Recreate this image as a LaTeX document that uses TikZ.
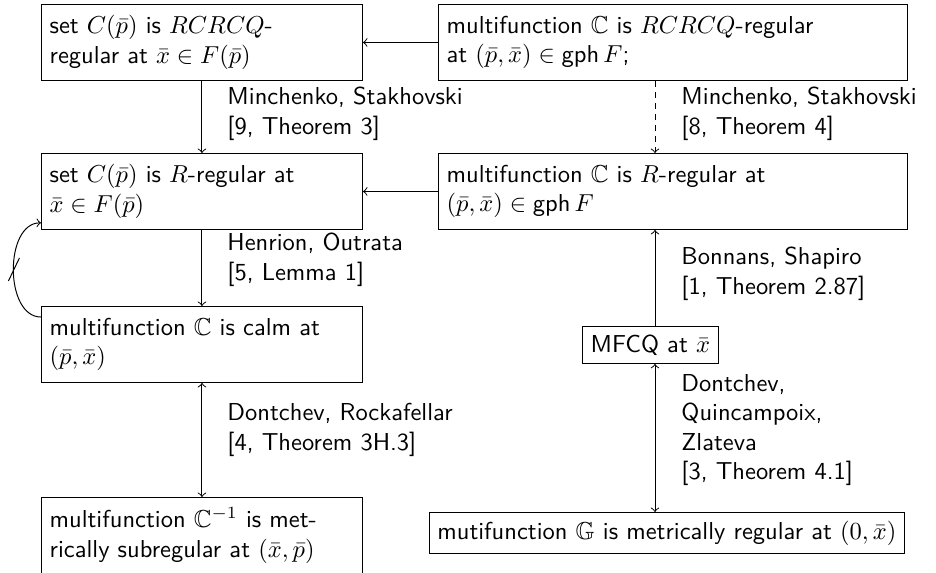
\documentclass[tikz,border=0pt]{standalone}
\usepackage{amssymb}
\renewcommand{\familydefault}{\sfdefault}
\begin{document}
\begin{tikzpicture}[x=0.408pt,y=-0.408pt, font=\sffamily,
  box/.style={draw, anchor=north west, align=left, inner sep=3.33pt},
  lbox/.style={box, text width=124.3pt, minimum height=31pt},
  rbox/.style={box, text width=184.7pt, minimum height=31pt},
  lbl/.style={anchor=west, align=left, inner sep=0pt},
  >=to]
\useasboundingbox (0,0) rectangle (936,573);

\node[lbox] (A) at (41,4) {set $C(\bar p)$ is $RCRCQ$-\\regular at $\bar x\in F(\bar p)$};
\node[rbox] (B) at (438,4) {multifunction $\mathbb{C}$ is $RCRCQ$-regular\\at $(\bar p,\bar x)\in\mbox{gph}\,F$;};
\node[lbox] (C) at (41,153) {set $C(\bar p)$ is $R$-regular at\\$\bar x\in F(\bar p)$};
\node[rbox] (D) at (438,153) {multifunction $\mathbb{C}$ is $R$-regular at\\$(\bar p,\bar x)\in\mbox{gph}\,F$};
\node[lbox] (E) at (41,306) {multifunction $\mathbb{C}$ is calm at\\$(\bar p,\bar x)$};
\node[lbox] (F) at (41,497) {multifunction $\mathbb{C}^{-1}$ is met-\\rically subregular at $(\bar x,\bar p)$};
\node[box] (MF) at (582,326) {MFCQ at $\bar x$};
\node[box, anchor=north east] (H) at (905,512) {mutifunction $\mathbb{G}$ is metrically regular at $(0,\bar x)$};

\node[lbl] (L1) at (227,114) {Minchenko, Stakhovski\\{[9, Theorem 3]}};
\node[lbl] (L2) at (681,114) {Minchenko, Stakhovski\\{[8, Theorem 4]}};
\node[lbl] (L3) at (227,260) {Henrion, Outrata\\{[5, Lemma 1]}};
\node[lbl] (L4) at (227,430) {Dontchev, Rockafellar\\{[4, Theorem 3H.3]}};
\node[lbl] (L5) at (681,274) {Bonnans, Shapiro\\{[1, Theorem 2.87]}};
\node[lbl] (L6) at (681,430) {Dontchev,\\Quincampoix,\\Zlateva\\{[3, Theorem 4.1]}};

\coordinate (rx) at (655,0);
\draw[->] (B.west) -- (B.west -| A.east);
\draw[->] (A.south) -- (C.north);
\draw[->] (D.west) -- (D.west -| C.east);
\draw[->] (C.south) -- (E.north);
\draw[<->] (E.south) -- (F.north);
\draw[->, dash pattern=on 2.5pt off 2pt] (B.south -| rx) -- (D.north -| rx);
\draw[->] (MF.north -| rx) -- (D.south -| rx);
\draw[<->] (H.north -| rx) -- (MF.south -| rx);

\draw[->] ([yshift=-4.5pt]E.north west) to[out=180,in=180] coordinate[pos=0.5] (sl) ([yshift=2.9pt]C.south west);
\draw ([shift={(-5,11)}]sl) -- ([shift={(6,-12)}]sl);
\end{tikzpicture}
\end{document}
